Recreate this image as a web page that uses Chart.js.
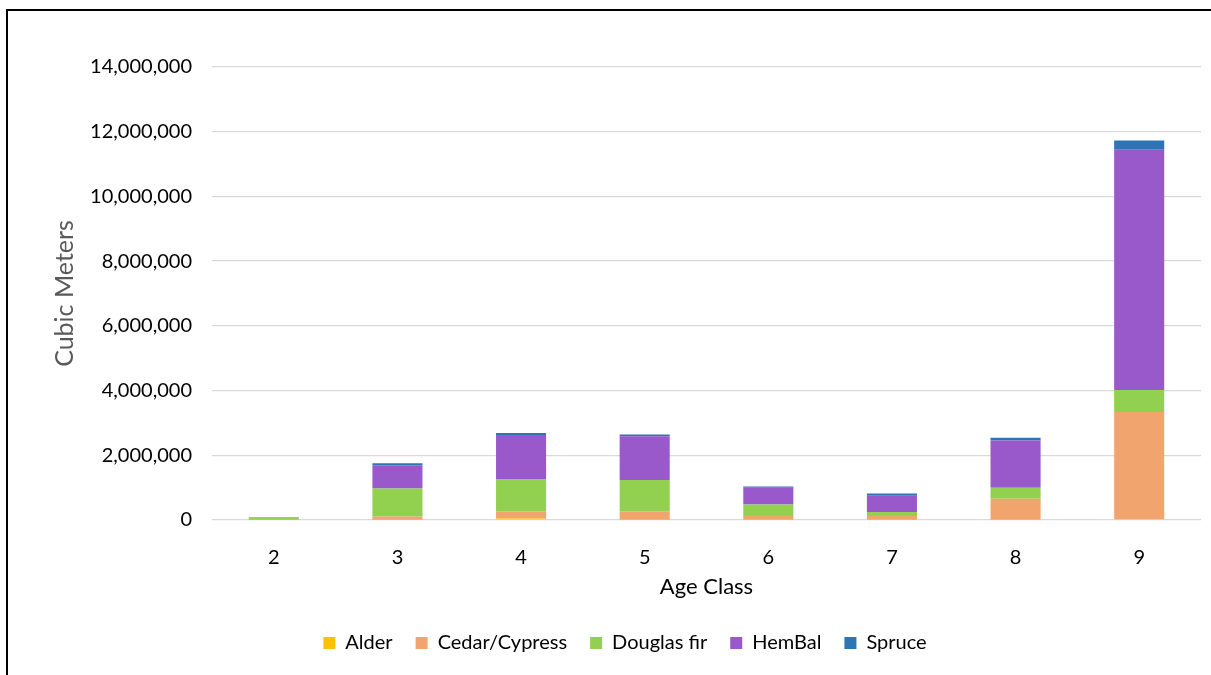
<!DOCTYPE html>
<html>
<head>
<meta charset="utf-8">
<script src="https://cdn.jsdelivr.net/npm/chart.js@4.4.0/dist/chart.umd.min.js"></script>
<style>
    html, body { margin: 0; padding: 0; background: #fff; overflow: hidden; }
    .frame { position: absolute; left: 6px; top: 9px; width: 1400px; height: 900px; border: 2px solid #000; }
    .wrap_chart { position: absolute; left: 0; top: 0; width: 1211px; height: 675px; }
</style>
</head>
<body>
<div class="frame"></div>
<div class="wrap_chart"><canvas id="chart"></canvas></div>
<script>
// age classes on the x axis
const ageClasses = ["2", "3", "4", "5", "6", "7", "8", "9"]

// volume per species, cubic meters
const alder = [0, 5000, 50000, 10000, 5000, 5000, 10000, 20000]
const cedarCypress = [10000, 105000, 220000, 260000, 115000, 115000, 645000, 3320000]
const douglasFir = [70000, 860000, 1000000, 970000, 360000, 130000, 340000, 680000]
const hemBal = [5000, 720000, 1360000, 1350000, 515000, 500000, 1460000, 7420000]
const spruce = [5000, 65000, 60000, 50000, 40000, 70000, 90000, 290000]

const yTicks = [0, 2000000, 4000000, 6000000, 8000000, 10000000, 12000000, 14000000]

const font = "Lato"

// fixed legend height so it sits where the reference has it
const legendHeight = {
    id: "legendHeight",
    beforeInit(chart) {
        if (!chart.legend) return
        const fit = chart.legend.fit
        chart.legend.fit = function () {
            fit.bind(chart.legend)()
            this.height = 65
        }
    }
}

const context = document.getElementById("chart").getContext("2d")

new Chart(context, {
    type: "bar",
    data: {
        labels: ageClasses,
        datasets: [
            { label: "Alder", data: alder, backgroundColor: "#FFC000" },
            { label: "Cedar/Cypress", data: cedarCypress, backgroundColor: "#F2A46F" },
            { label: "Douglas fir", data: douglasFir, backgroundColor: "#92D050" },
            { label: "HemBal", data: hemBal, backgroundColor: "#9A59CA" },
            { label: "Spruce", data: spruce, backgroundColor: "#2E75B6" },
        ],
    },
    options: {
        responsive: true,
        maintainAspectRatio: false,
        animation: false,
        barPercentage: 0.405,
        categoryPercentage: 1,
        layout: { padding: { top: 67, left: 49, right: 10, bottom: 0 } },
        plugins: {
            legend: {
                position: "bottom",
                labels: {
                    color: "#000",
                    font: { family: font, size: 20 },
                    boxWidth: 12,
                    boxHeight: 12,
                    padding: 23,
                },
            },
            tooltip: { enabled: false },
        },
        scales: {
            x: {
                stacked: true,
                grid: { display: false },
                border: { display: false },
                ticks: { color: "#000", font: { family: font, size: 20 }, padding: 18 },
                title: {
                    display: true,
                    text: "Age Class",
                    color: "#000",
                    font: { family: font, size: 22 },
                    padding: { top: 0, bottom: 10 },
                },
                afterFit(scale) { scale.height = 90 },
            },
            y: {
                stacked: true,
                min: 0,
                max: 14000000,
                afterBuildTicks(scale) { scale.ticks = yTicks.map(v => ({ value: v })) },
                grid: { color: "#d9d9d9", lineWidth: 1.3, drawTicks: false },
                border: { display: false },
                ticks: {
                    color: "#000",
                    font: { family: font, size: 20 },
                    padding: 20,
                    callback: v => v.toLocaleString("en-US"),
                },
                title: {
                    display: true,
                    text: "Cubic Meters",
                    color: "#595959",
                    font: { family: font, size: 25 },
                    padding: { top: 1, bottom: 4 },
                },
                afterFit(scale) { scale.width = 163 },
            },
        },
    },
    plugins: [legendHeight],
})
</script>
</body>
</html>
